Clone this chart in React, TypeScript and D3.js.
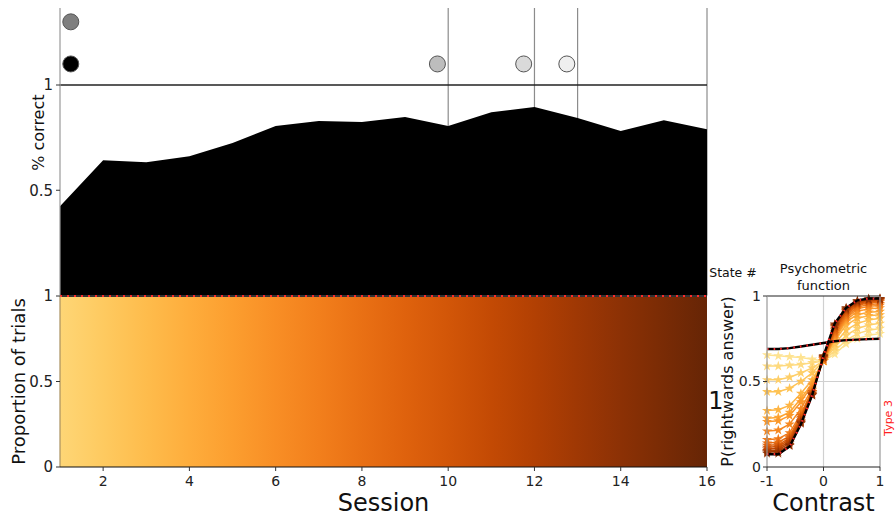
import React from "react";
import * as d3 from "d3";

// Session axis
const sessions = [1, 2, 3, 4, 5, 6, 7, 8, 9, 10, 11, 12, 13, 14, 15, 16];
const sessionTicks = [2, 4, 6, 8, 10, 12, 14, 16];

// Fraction correct per session
const pctCorrect = [0.424, 0.643, 0.633, 0.662, 0.724, 0.805, 0.829, 0.824, 0.848, 0.805, 0.871, 0.895, 0.843, 0.781, 0.833, 0.79];

// Proportion of trials in the single state, per session
const stateProportion = [1, 1, 1, 1, 1, 1, 1, 1, 1, 1, 1, 1, 1, 1, 1, 1];

// Sessions where the protocol changed
const changeSessions = [10, 12, 13, 16];

// Protocol markers above the accuracy curve
const markerSessions = [1.25, 1.25, 9.75, 11.75, 12.75];
const markerLevels = [1.3, 1.1, 1.1, 1.1, 1.1];
const markerShades = ["#7f7f7f", "#000000", "#bdbdbd", "#dadada", "#efefef"];

// Psychometric function
const contrasts = [-1, -0.8, -0.6, -0.4, -0.2, 0, 0.2, 0.4, 0.6, 0.8, 1];
const psychBySession = [
  [0.655, 0.65, 0.645, 0.64, 0.63, 0.62, 0.66, 0.72, 0.75, 0.77, 0.78],
  [0.59, 0.59, 0.595, 0.6, 0.61, 0.62, 0.68, 0.74, 0.78, 0.8, 0.81],
  [0.51, 0.51, 0.525, 0.55, 0.58, 0.62, 0.7, 0.77, 0.81, 0.83, 0.84],
  [0.44, 0.44, 0.46, 0.5, 0.55, 0.62, 0.72, 0.8, 0.84, 0.86, 0.87],
  [0.33, 0.335, 0.36, 0.43, 0.51, 0.62, 0.74, 0.83, 0.87, 0.885, 0.89],
  [0.285, 0.29, 0.32, 0.4, 0.49, 0.62, 0.75, 0.85, 0.89, 0.905, 0.91],
  [0.265, 0.27, 0.3, 0.38, 0.48, 0.62, 0.76, 0.86, 0.91, 0.925, 0.93],
  [0.21, 0.215, 0.25, 0.34, 0.46, 0.62, 0.77, 0.87, 0.925, 0.94, 0.945],
  [0.16, 0.165, 0.2, 0.31, 0.45, 0.63, 0.78, 0.88, 0.935, 0.95, 0.955],
  [0.14, 0.145, 0.18, 0.3, 0.44, 0.63, 0.79, 0.89, 0.945, 0.96, 0.965],
  [0.127, 0.13, 0.17, 0.29, 0.44, 0.63, 0.8, 0.9, 0.95, 0.965, 0.97],
  [0.115, 0.12, 0.16, 0.28, 0.43, 0.64, 0.81, 0.91, 0.955, 0.97, 0.975],
  [0.105, 0.11, 0.15, 0.27, 0.43, 0.64, 0.82, 0.915, 0.96, 0.975, 0.978],
  [0.096, 0.1, 0.14, 0.265, 0.425, 0.645, 0.825, 0.92, 0.965, 0.978, 0.98],
  [0.088, 0.09, 0.13, 0.26, 0.42, 0.645, 0.83, 0.925, 0.97, 0.98, 0.982],
  [0.08, 0.08, 0.125, 0.255, 0.42, 0.65, 0.835, 0.93, 0.972, 0.983, 0.985],
];
const psychStart = [0.69, 0.69, 0.695, 0.705, 0.715, 0.725, 0.735, 0.742, 0.745, 0.748, 0.75];
const psychEnd = [0.075, 0.075, 0.12, 0.25, 0.42, 0.65, 0.84, 0.93, 0.975, 0.985, 0.985];

const yTopTicks = [0.5, 1];
const yTopTickLabels = ["0.5", "1"];
const yBotTicks = [0, 0.5, 1];
const yBotTickLabels = ["0", "0.5", "1"];
const psychXTicks = [-1, 0, 1];
const psychXTickLabels = ["-1", "0", "1"];
const psychYTicks = [0, 0.5, 1];
const psychYTickLabels = ["0", "0.5", "1"];

const FONT = "DejaVu Sans, sans-serif";

export default function App() {
  const W = 896;
  const H = 520;

  const x = d3.scaleLinear().domain([1, 16]).range([60, 707]);
  const yTop = d3.scaleLinear().domain([0, 1]).range([295.5, 85]);
  const topEdge = 8;
  const yBot = d3.scaleLinear().domain([0, 1]).range([467, 296]);

  const px = d3.scaleLinear().domain([-1, 1]).range([767, 880]);
  const py = d3.scaleLinear().domain([0, 1]).range([467, 296]);

  const shadeT = d3.scaleLinear().domain([1, 16]).range([0.3, 1]);
  const lineT = d3.scaleLinear().domain([0, psychBySession.length - 1]).range([0.24, 0.9]);

  const accArea = d3
    .area<number>()
    .x((_, i) => x(sessions[i]))
    .y0(yTop(0))
    .y1((d) => yTop(d));

  const propArea = d3
    .area<number>()
    .x((_, i) => x(sessions[i]))
    .y0(yBot(0))
    .y1((d) => yBot(d));

  const propLine = d3
    .line<number>()
    .x((_, i) => x(sessions[i]))
    .y((d) => yBot(d));

  const psychLine = d3
    .line<number>()
    .x((_, i) => px(contrasts[i]))
    .y((d) => py(d));

  const star = d3.symbol(d3.symbolStar).size(32)() as string;

  return (
    <svg
      width={W}
      height={H}
      viewBox={`0 0 ${W} ${H}`}
      style={{ position: "absolute", left: 0, top: 0, background: "#fff" }}
      fontFamily={FONT}
    >
      <defs>
        <linearGradient id="stateShade" x1="0" x2="1" y1="0" y2="0">
          {sessions.map((s) => (
            <stop
              key={s}
              offset={(s - 1) / (sessions.length - 1)}
              stopColor={d3.interpolateYlOrBr(shadeT(s))}
            />
          ))}
        </linearGradient>
      </defs>

      {/* ---------- accuracy panel ---------- */}
      {changeSessions.map((s) => (
        <line key={s} x1={x(s)} x2={x(s)} y1={topEdge} y2={yTop(0)} stroke="#8c8c8c" strokeWidth={1.2} />
      ))}
      <path d={accArea(pctCorrect) as string} fill="#000" />
      <line x1={x(1)} x2={x(16)} y1={yTop(1)} y2={yTop(1)} stroke="#222" strokeWidth={1.6} />
      {markerSessions.map((s, i) => (
        <circle
          key={i}
          cx={x(s)}
          cy={yTop(markerLevels[i])}
          r={8}
          fill={markerShades[i]}
          stroke="#555"
          strokeWidth={1}
        />
      ))}
      <line x1={x(1)} x2={x(1)} y1={topEdge} y2={yTop(0)} stroke="#999" strokeWidth={1.2} />
      {yTopTicks.map((t, i) => (
        <g key={t}>
          <line x1={x(1) - 4} x2={x(1)} y1={yTop(t)} y2={yTop(t)} stroke="#333" />
          <text x={x(1) - 7} y={yTop(t)} dy="0.35em" textAnchor="end" fontSize={15} fill="#222">
            {yTopTickLabels[i]}
          </text>
        </g>
      ))}
      <text transform={`translate(44,${(yTop(0.5) + yTop(1)) / 2 - 5}) rotate(-90)`} textAnchor="middle" fontSize={16} fill="#111">
        % correct
      </text>

      {/* ---------- state proportion panel ---------- */}
      <path d={propArea(stateProportion) as string} fill="url(#stateShade)" />
      <path d={propLine(stateProportion) as string} fill="none" stroke="#333" strokeWidth={1.8} />
      <path d={propLine(stateProportion) as string} fill="none" stroke="#ff2a2a" strokeWidth={1.8} strokeDasharray="2 5" />
      <line x1={x(1)} x2={x(1)} y1={yBot(1)} y2={yBot(0)} stroke="#a89060" strokeWidth={1.2} />
      <line x1={x(1)} x2={x(16)} y1={yBot(0)} y2={yBot(0)} stroke="#111" strokeWidth={1.2} />
      {yBotTicks.map((t, i) => (
        <g key={t}>
          <line x1={x(1) - 4} x2={x(1)} y1={yBot(t)} y2={yBot(t)} stroke="#333" />
          <text x={x(1) - 7} y={yBot(t)} dy="0.35em" textAnchor="end" fontSize={15} fill="#222">
            {yBotTickLabels[i]}
          </text>
        </g>
      ))}
      {sessionTicks.map((t) => (
        <g key={t}>
          <line x1={x(t)} x2={x(t)} y1={yBot(0)} y2={yBot(0) + 4} stroke="#333" />
          <text x={x(t)} y={yBot(0) + 19} textAnchor="middle" fontSize={14} fill="#222">
            {t}
          </text>
        </g>
      ))}
      <text transform={`translate(25,${yBot(0.5)}) rotate(-90)`} textAnchor="middle" fontSize={18} fill="#111">
        Proportion of trials
      </text>
      <text x={(x(1) + x(16)) / 2} y={511} textAnchor="middle" fontSize={24} fill="#111">
        Session
      </text>

      {/* ---------- psychometric panel ---------- */}
      <line x1={px(0)} x2={px(0)} y1={py(0)} y2={py(1)} stroke="#d0d0d0" strokeWidth={1.2} />
      <line x1={px(-1)} x2={px(1)} y1={py(0.5)} y2={py(0.5)} stroke="#d0d0d0" strokeWidth={1.2} />
      {psychBySession.map((vals, k) => {
        const c = d3.interpolateYlOrBr(lineT(k));
        return (
          <g key={k}>
            <path d={psychLine(vals) as string} fill="none" stroke={c} strokeWidth={1.5} />
            {vals.map((v, i) => (
              <path key={i} d={star} transform={`translate(${px(contrasts[i])},${py(v)})`} fill={c} />
            ))}
          </g>
        );
      })}
      {[psychStart, psychEnd].map((vals, k) => (
        <g key={k}>
          <path d={psychLine(vals) as string} fill="none" stroke="#000" strokeWidth={2.4} />
          <path d={psychLine(vals) as string} fill="none" stroke="#ff2a2a" strokeWidth={2.2} strokeDasharray="1.6 5" />
        </g>
      ))}
      <line x1={px(-1)} x2={px(1)} y1={py(1)} y2={py(1)} stroke="#222" strokeWidth={1.2} />
      <line x1={px(1)} x2={px(1)} y1={py(1)} y2={py(0)} stroke="#999" strokeWidth={1.2} />
      <line x1={px(-1)} x2={px(-1)} y1={py(1)} y2={py(0)} stroke="#999" strokeWidth={1.2} />
      <line x1={px(-1)} x2={px(1)} y1={py(0)} y2={py(0)} stroke="#222" strokeWidth={1.2} />
      {psychYTicks.map((t, i) => (
        <g key={t}>
          <line x1={px(-1) - 4} x2={px(-1)} y1={py(t)} y2={py(t)} stroke="#333" />
          <text x={px(-1) - 6} y={py(t)} dy="0.35em" textAnchor="end" fontSize={14} fill="#222">
            {psychYTickLabels[i]}
          </text>
        </g>
      ))}
      {psychXTicks.map((t, i) => (
        <g key={t}>
          <line x1={px(t)} x2={px(t)} y1={py(0)} y2={py(0) + 4} stroke="#333" />
          <text x={px(t)} y={py(0) + 19} textAnchor="middle" fontSize={14} fill="#222">
            {psychXTickLabels[i]}
          </text>
        </g>
      ))}
      <text x={(px(-1) + px(1)) / 2} y={511} textAnchor="middle" fontSize={24} fill="#111">
        Contrast
      </text>
      <text x={(px(-1) + px(1)) / 2} y={273} textAnchor="middle" fontSize={13} fill="#111">
        Psychometric
      </text>
      <text x={(px(-1) + px(1)) / 2} y={290} textAnchor="middle" fontSize={13} fill="#111">
        function
      </text>
      <text x={733} y={277} textAnchor="middle" fontSize={12.5} fill="#111">
        State #
      </text>
      <text transform={`translate(733,${py(0.5)}) rotate(-90)`} textAnchor="middle" fontSize={16} fill="#111">
        P(rightwards answer)
      </text>
      <text x={716} y={409} textAnchor="middle" fontSize={24} fill="#111">
        1
      </text>
      <text transform={`translate(892,${418}) rotate(-90)`} textAnchor="middle" fontSize={11} fill="#ff2020">
        Type 3
      </text>
    </svg>
  );
}
